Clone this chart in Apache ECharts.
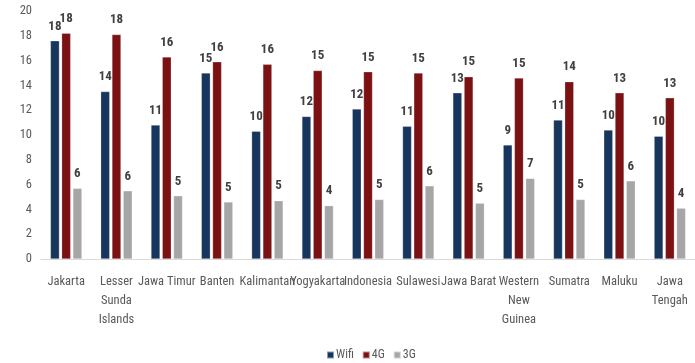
<!DOCTYPE html>
<html>
<head>
<meta charset="utf-8">
<script src="https://cdn.jsdelivr.net/npm/echarts@6/dist/echarts.min.js"></script>
<style>html,body{margin:0;padding:0;background:#fff;}#c{width:695px;height:363px;}</style>
</head>
<body>
<div id="c"></div>
<script>
const categories = ["Jakarta","Lesser Sunda Islands","Jawa Timur","Banten","Kalimantan","Yogyakarta","Indonesia","Sulawesi","Jawa Barat","Western New Guinea","Sumatra","Maluku","Jawa Tengah"];
const categoryLabels = ["Jakarta","Lesser\nSunda\nIslands","Jawa Timur","Banten","Kalimantan","Yogyakarta","Indonesia","Sulawesi","Jawa Barat","Western\nNew\nGuinea","Sumatra","Maluku","Jawa\nTengah"];
const wifi = [17.6,13.5,10.8,15.0,10.3,11.5,12.1,10.7,13.4,9.2,11.2,10.4,9.9];
const g4   = [18.2,18.1,16.3,15.9,15.7,15.2,15.1,15.0,14.7,14.6,14.3,13.4,13.0];
const g3   = [5.7,5.5,5.1,4.6,4.7,4.3,4.8,5.9,4.5,6.5,4.8,6.3,4.1];
const yTicks = [0,2,4,6,8,10,12,14,16,18,20];
const seriesNames = ["Wifi","4G","3G"];

const FONT = '"Roboto Condensed",sans-serif';
const colors = ["#17365D","#7B1113","#A6A6A6"];
const labelCfg = {
  show: true, position: 'top', distance: 8,
  fontFamily: FONT, fontWeight: 'bold', fontSize: 13, color: '#404040',
  formatter: p => Math.round(p.value)
};
function mk(name, data, color) {
  return { name, type: 'bar', data, barWidth: 9, barGap: '25%',
    itemStyle: { color, borderColor: 'rgba(255,255,255,0.5)', borderWidth: 0.5 },
    label: labelCfg };
}
const chart = echarts.init(document.getElementById('c'), null, {renderer: 'canvas'});
chart.setOption({
  animation: false,
  color: colors,
  textStyle: { fontFamily: FONT },
  grid: { left: 41, right: -3, top: 11, bottom: 104, containLabel: false },
  legend: {
    data: seriesNames, left: 321, top: 344, itemWidth: 7, itemHeight: 7, itemGap: 8,
    icon: 'rect',
    textStyle: { fontFamily: FONT, fontSize: 12, color: '#595959', padding: [0,0,0,-3] }
  },
  xAxis: {
    type: 'category', data: categories,
    axisLine: { lineStyle: { color: '#D9D9D9', width: 1 } },
    axisTick: { show: false },
    axisLabel: {
      interval: 0, margin: 13, fontFamily: FONT, fontSize: 12.5, color: '#595959', lineHeight: 19,
      formatter: (v, i) => categoryLabels[i]
    }
  },
  yAxis: {
    type: 'value', min: yTicks[0], max: yTicks[yTicks.length-1], interval: 2,
    axisLine: { show: false }, axisTick: { show: false }, splitLine: { show: false },
    axisLabel: { fontFamily: FONT, fontSize: 12.5, color: '#595959', margin: 9 }
  },
  series: [mk(seriesNames[0], wifi, colors[0]), mk(seriesNames[1], g4, colors[1]), mk(seriesNames[2], g3, colors[2])]
});
</script>
</body>
</html>
